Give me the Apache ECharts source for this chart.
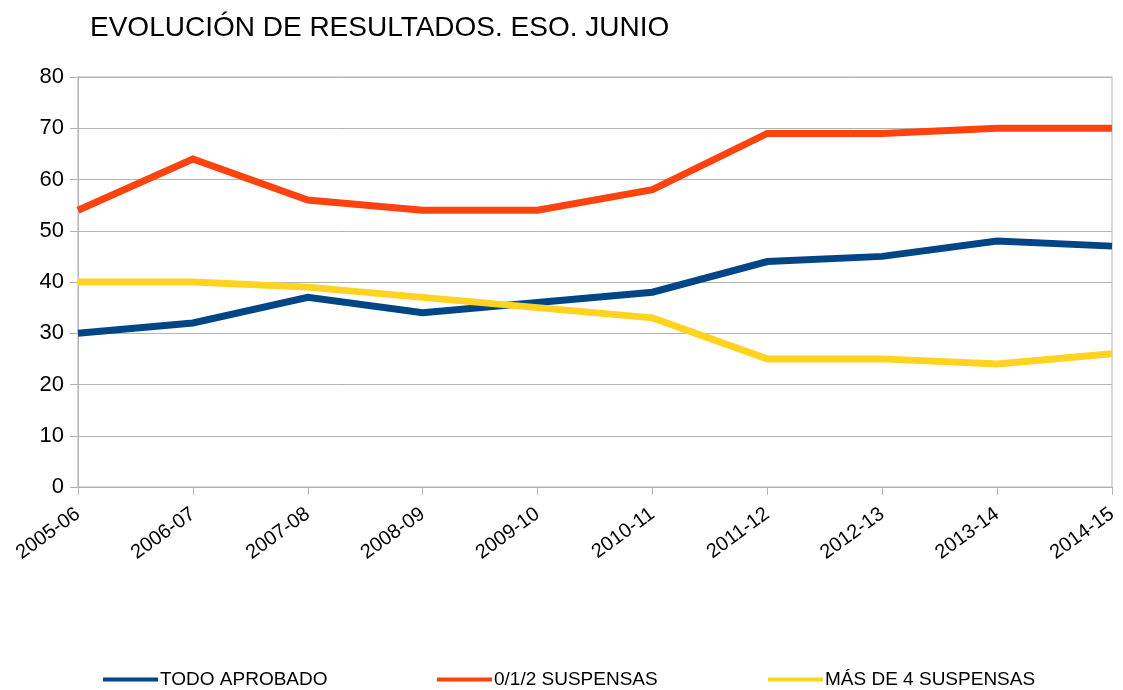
<!DOCTYPE html>
<html>
<head>
<meta charset="utf-8">
<script src="https://cdn.jsdelivr.net/npm/echarts@6/dist/echarts.min.js"></script>
<style>
  html, body { margin: 0; padding: 0; background: #fff; }
  #chart { width: 1123px; height: 690px; }
</style>
</head>
<body>
<div id="chart"></div>
<script>
// cursos
var cursos = ['2005-06', '2006-07', '2007-08', '2008-09', '2009-10', '2010-11', '2011-12', '2012-13', '2013-14', '2014-15'];
// porcentajes por serie
var todoAprobado = [30, 32, 37, 34, 36, 38, 44, 45, 48, 47];
var suspensas012 = [54, 64, 56, 54, 54, 58, 69, 69, 70, 70];
var masDe4 = [40, 40, 39, 37, 35, 33, 25, 25, 24, 26];
var nombres = ['TODO APROBADO', '0/1/2 SUSPENSAS', 'MÁS DE 4 SUSPENSAS'];
var colores = ['#004586', '#ff420e', '#ffd320'];

var myChart = echarts.init(document.getElementById('chart'));

function leyenda(nombre, left) {
    return {
        data: [nombre],
        left: left,
        top: 670,
        padding: 0,
        icon: 'rect',
        itemWidth: 55,
        itemHeight: 4,
        itemGap: 0,
        textStyle: { fontFamily: 'Liberation Sans', fontSize: 19, color: '#000', padding: [0, 0, 0, -3] }
    };
}

function serie(nombre, datos, color) {
    return {
        name: nombre,
        type: 'line',
        data: datos,
        symbol: 'none',
        lineStyle: { width: 7, color: color, join: 'miter' },
        itemStyle: { color: color }
    };
}

var option = {
    animation: false,
    title: {
        text: 'EVOLUCIÓN DE RESULTADOS. ESO. JUNIO',
        left: 85,
        top: 9,
        textStyle: { fontFamily: 'Liberation Sans', fontSize: 28, fontWeight: 'normal', color: '#000' }
    },
    legend: [
        leyenda(nombres[0], 103),
        leyenda(nombres[1], 437),
        leyenda(nombres[2], 768)
    ],
    grid: {
        left: 78, right: 11, top: 77, bottom: 203,
        show: true, borderColor: '#b3b3b3', borderWidth: 1
    },
    xAxis: {
        type: 'category',
        data: cursos,
        boundaryGap: false,
        axisLine: { lineStyle: { color: '#b3b3b3' } },
        axisTick: { length: 8, lineStyle: { color: '#b3b3b3' } },
        axisLabel: {
            rotate: 36, interval: 0, margin: 25,
            fontFamily: 'Liberation Sans', fontSize: 20, color: '#000'
        }
    },
    yAxis: {
        type: 'value',
        min: 0, max: 80, interval: 10,
        axisLine: { show: true, lineStyle: { color: '#b3b3b3' } },
        axisTick: { show: true, length: 8, lineStyle: { color: '#b3b3b3' } },
        splitLine: { lineStyle: { color: '#b3b3b3' } },
        axisLabel: { margin: 14, fontFamily: 'Liberation Sans', fontSize: 22, color: '#000' }
    },
    series: [
        serie(nombres[0], todoAprobado, colores[0]),
        serie(nombres[1], suspensas012, colores[1]),
        serie(nombres[2], masDe4, colores[2])
    ]
};

myChart.setOption(option);
</script>
</body>
</html>
